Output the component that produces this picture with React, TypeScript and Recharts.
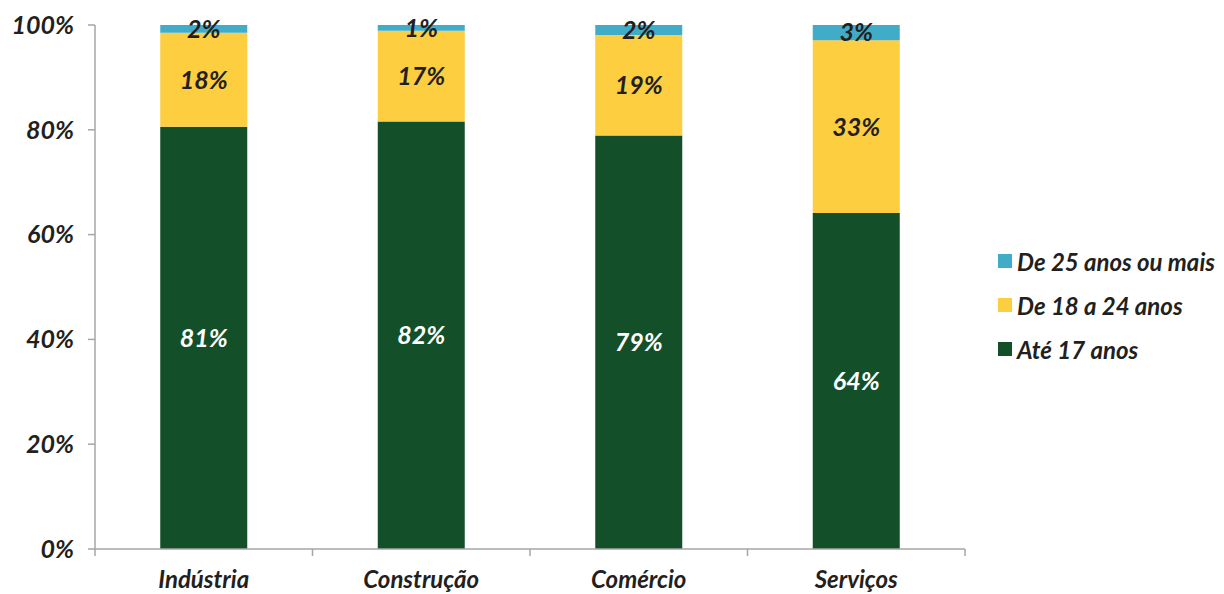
import { BarChart, Bar, XAxis, YAxis, LabelList } from 'recharts';

const sectors = ['Indústria', 'Construção', 'Comércio', 'Serviços'];
const ate17 = [80.6, 81.6, 78.9, 64.1];
const de18a24 = [17.9, 17.3, 19.2, 33.0];
const de25mais = [1.5, 1.1, 1.9, 2.9];
const yTicks = [0, 20, 40, 60, 80, 100];

const seriesNames = ['Até 17 anos', 'De 18 a 24 anos', 'De 25 anos ou mais'];
const seriesColors = ['#134F28', '#FDCE3F', '#41ACC8'];

const data = sectors.map((name, i) => ({
  name,
  ate17: ate17[i],
  de18a24: de18a24[i],
  de25mais: de25mais[i],
}));

const W = 1224;
const H = 594;
const AXIS_LEFT = 95;
const PLOT_RIGHT = 965;
const BAND = (PLOT_RIGHT - AXIS_LEFT) / sectors.length;

const font = {
  fontFamily: 'Lato, sans-serif',
  fontStyle: 'italic' as const,
  fontWeight: 700,
};

const pct = (v: any) => `${Math.round(Number(v))}%`;

const CategoryTick = (props: any) => {
  const { x, y, payload, index } = props;
  const left = x - BAND / 2;
  const right = x + BAND / 2;
  return (
    <g>
      <line x1={left} y1={y - 8} x2={left} y2={y - 1} stroke="#A6A6A6" strokeWidth={1.5} />
      {index === sectors.length - 1 && (
        <line x1={right} y1={y - 8} x2={right} y2={y - 1} stroke="#A6A6A6" strokeWidth={1.5} />
      )}
      <text x={x} y={y + 31} textAnchor="middle" fill="#231F20" fontSize={24} style={font}>
        {payload.value}
      </text>
    </g>
  );
};

// legend drawn as plain html so it does not shrink the plot area
const LegendBox = () => (
  <div
    style={{
      ...font,
      position: 'absolute',
      left: 998,
      top: 239,
      fontSize: 24,
      color: '#231F20',
    }}
  >
    {[2, 1, 0].map((i) => (
      <div key={i} style={{ display: 'flex', alignItems: 'center', height: 44, whiteSpace: 'nowrap' }}>
        <span
          style={{
            display: 'inline-block',
            width: 14,
            height: 14,
            background: seriesColors[i],
            marginRight: 5,
          }}
        />
        {seriesNames[i]}
      </div>
    ))}
  </div>
);

export default function App() {
  return (
    <div style={{ position: 'absolute', left: 0, top: 0, width: W, height: H, background: '#fff' }}>
      <BarChart
        width={W}
        height={H}
        data={data}
        margin={{ top: 25, right: W - PLOT_RIGHT, bottom: 0, left: 0 }}
        barCategoryGap="30%"
      >
        <XAxis
          dataKey="name"
          height={45}
          axisLine={{ stroke: '#A6A6A6', strokeWidth: 1.5 }}
          tickLine={false}
          tick={<CategoryTick />}
          interval={0}
        />
        <YAxis
          width={AXIS_LEFT}
          domain={[0, 100]}
          ticks={yTicks}
          tickFormatter={(v) => `${v}%`}
          axisLine={{ stroke: '#A6A6A6', strokeWidth: 1.5 }}
          tickLine={{ stroke: '#A6A6A6', strokeWidth: 1.5 }}
          tickSize={7}
          tickMargin={14}
          tick={{ ...font, fontSize: 25, fill: '#231F20' }}
        />
        <Bar dataKey="ate17" stackId="a" fill={seriesColors[0]} isAnimationActive={false}>
          <LabelList dataKey="ate17" position="center" formatter={pct} fill="#FFFFFF" fontSize={25} style={font} />
        </Bar>
        <Bar dataKey="de18a24" stackId="a" fill={seriesColors[1]} isAnimationActive={false}>
          <LabelList dataKey="de18a24" position="center" formatter={pct} fill="#231F20" fontSize={25} style={font} />
        </Bar>
        <Bar dataKey="de25mais" stackId="a" fill={seriesColors[2]} isAnimationActive={false}>
          <LabelList dataKey="de25mais" position="center" formatter={pct} fill="#231F20" fontSize={25} style={font} />
        </Bar>
      </BarChart>
      <LegendBox />
    </div>
  );
}
